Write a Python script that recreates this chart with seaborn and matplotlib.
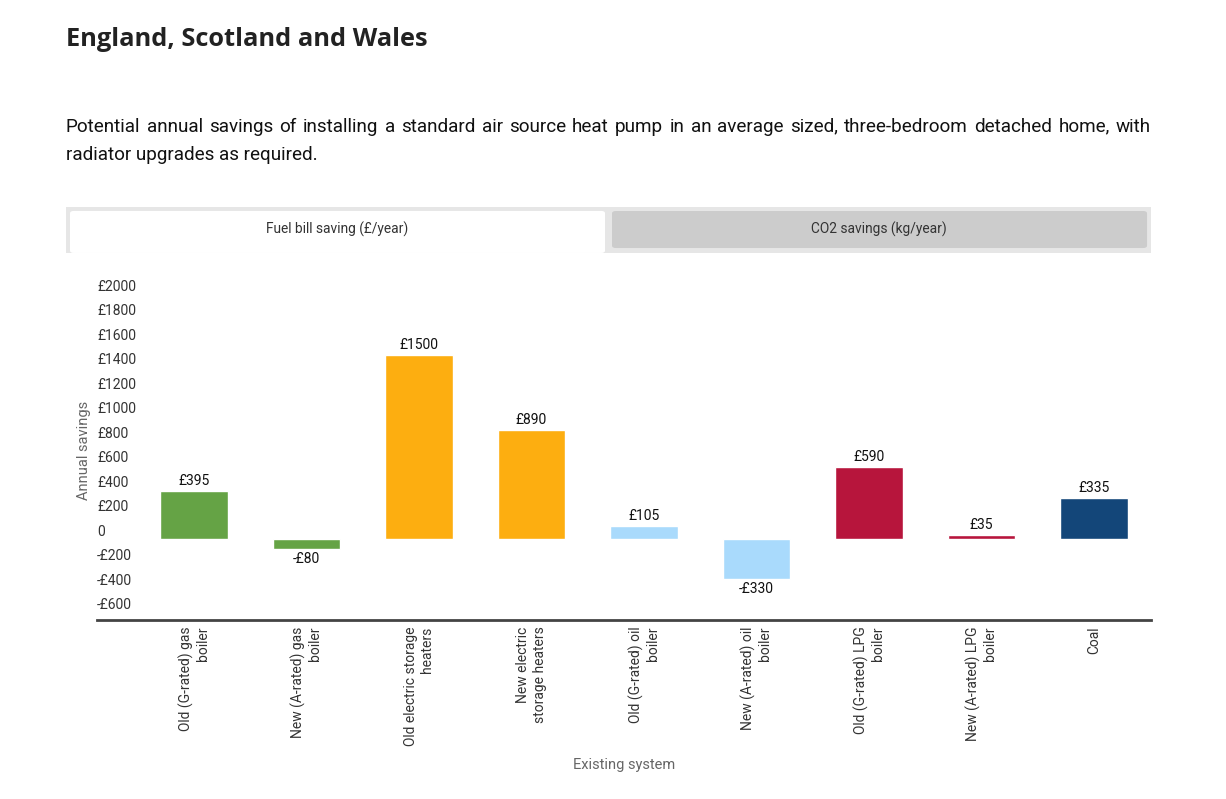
import numpy as np
import pandas as pd
import matplotlib.pyplot as plt
import matplotlib.transforms as mtransforms
from matplotlib.patches import FancyBboxPatch, Rectangle
import seaborn as sns

# Data
systems = ['Old (G-rated) gas\nboiler', 'New (A-rated) gas\nboiler',
           'Old electric storage\nheaters', 'New electric\nstorage heaters',
           'Old (G-rated) oil\nboiler', 'New (A-rated) oil\nboiler',
           'Old (G-rated) LPG\nboiler', 'New (A-rated) LPG\nboiler', 'Coal']
savings = [395, -80, 1500, 890, 105, -330, 590, 35, 335]
bar_colors = ['#65a345', '#65a345', '#fdae10', '#fdae10', '#a9dafc',
              '#a9dafc', '#b7153c', '#b7153c', '#134679']
y_ticks = [-600, -400, -200, 0, 200, 400, 600, 800, 1000, 1200, 1400, 1600, 1800, 2000]
y_tick_labels = ['-£600', '-£400', '-£200', '0', '£200', '£400', '£600', '£800',
                 '£1000', '£1200', '£1400', '£1600', '£1800', '£2000']

title = 'England, Scotland and Wales'
subtitle_1 = ('Potential annual savings of installing a standard air source heat pump in an '
              'average sized, three-bedroom detached home, with')
subtitle_2 = 'radiator upgrades as required.'

df = pd.DataFrame({'system': systems, 'saving': savings})

sns.set_style('white')
plt.rcParams['font.family'] = ['Roboto', 'DejaVu Sans']

fig = plt.figure(figsize=(12.26, 7.99), dpi=100)
renderer = fig.canvas.get_renderer()

# ===== HEADER =====
fig.text(0.0538, 0.950, title, fontsize=18.3, fontweight='bold',
         family=['Open Sans', 'DejaVu Sans'], color='#222222', va='center')

# justified first line: spread words across the text width
x0, x1 = 0.0538, 0.9388
words = subtitle_1.split(' ')
texts = [fig.text(0, 0.835, w, fontsize=13.6, color='#111111', va='baseline') for w in words]
widths = [t.get_window_extent(renderer).width / fig.bbox.width for t in texts]
gap = (x1 - x0 - sum(widths)) / (len(words) - 1)
x = x0
for t, w in zip(texts, widths):
    t.set_x(x)
    x += w + gap
fig.text(x0, 0.800, subtitle_2, fontsize=13.6, color='#111111', va='baseline')

# ===== TABS =====
fig.patches.append(Rectangle((0.0538, 0.6834), 0.885, 0.0576, transform=fig.transFigure,
                             facecolor='#e6e6e6', edgecolor='none', zorder=0))
fig.patches.append(FancyBboxPatch((0.0571, 0.6834), 0.4364, 0.0526, boxstyle='round,pad=0,rounding_size=0.003',
                                  transform=fig.transFigure, facecolor='white', edgecolor='none', zorder=1))
fig.patches.append(FancyBboxPatch((0.4992, 0.6896), 0.4364, 0.0463, boxstyle='round,pad=0,rounding_size=0.003',
                                  transform=fig.transFigure, facecolor='#cccccc', edgecolor='none', zorder=1))
fig.text(0.2749, 0.7134, 'Fuel bill saving (£/year)', fontsize=9.9, color='#333333', ha='center', va='center')
fig.text(0.717, 0.7134, 'CO2 savings (kg/year)', fontsize=9.9, color='#333333', ha='center', va='center')

# ===== CHART =====
ax = fig.add_axes([0.0791, 0.2240, 0.8597, 0.4255])
sns.barplot(data=df, x='system', y='saving', hue='system', palette=bar_colors,
            legend=False, width=0.6, saturation=1, ax=ax)

for cont, v in zip(ax.containers, savings):
    lab = f'£{v}' if v >= 0 else f'-£{abs(v)}'
    ax.bar_label(cont, labels=[lab], padding=2, fontsize=10, color='#111111')

ax.set_xlim(-0.862, 8.507)
ax.set_ylim(-661, 2114)
ax.set_yticks(y_ticks)
ax.set_yticklabels(y_tick_labels, fontsize=10, color='#333333')
ax.tick_params(axis='y', length=0, pad=0)
shift = mtransforms.ScaledTranslation(0, 0.09, fig.dpi_scale_trans)
for t in ax.get_yticklabels():
    t.set_horizontalalignment('left')
    t.set_transform(t.get_transform() + shift)

ax.tick_params(axis='x', length=0, pad=4.5)
ax.set_xticks(range(len(systems)))
ax.set_xticklabels(systems, rotation=90, fontsize=10, color='#333333',
                   multialignment='right')

for s in ['left', 'right', 'top']:
    ax.spines[s].set_visible(False)
ax.spines['bottom'].set_color('#444444')
ax.spines['bottom'].set_linewidth(2)

ax.set_ylabel('Annual savings', fontsize=10.5, color='#666666', labelpad=4.5)
ax.set_xlabel('Existing system', fontsize=10.5, color='#666666', labelpad=9)

plt.savefig('out.png', dpi=100)
